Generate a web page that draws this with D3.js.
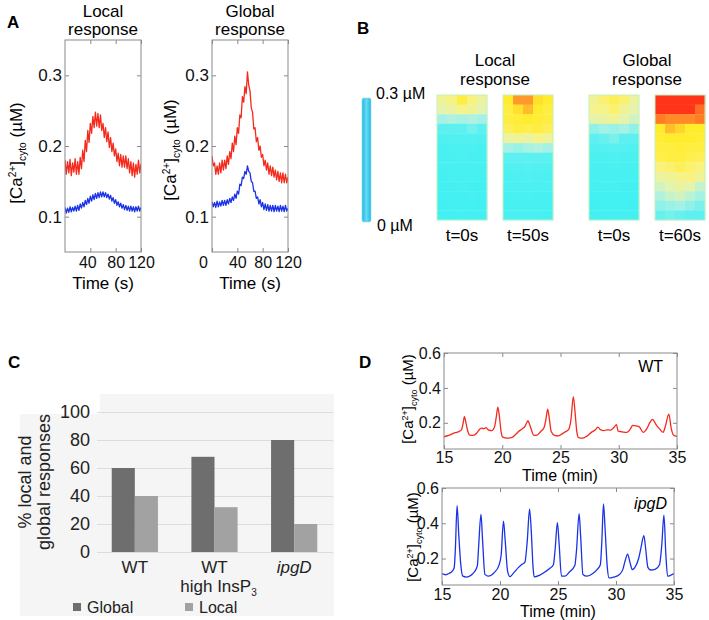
<!DOCTYPE html>
<html><head><meta charset="utf-8">
<script src="https://cdn.jsdelivr.net/npm/d3@7"></script>
<style>
body{margin:0;background:#fff;}
text{font-family:"Liberation Sans",Arial,sans-serif;}
</style>
</head>
<body>
<script>
// ---- panel A: cytosolic Ca2+ traces, sampled every 2 s from 0 to 120 s
var aStep = 2;
var localRed = [0.180,0.160,0.178,0.162,0.181,0.158,0.176,0.163,0.182,0.160,
  0.178,0.160,0.184,0.168,0.194,0.178,0.208,0.192,0.222,0.205,
  0.232,0.218,0.242,0.226,0.248,0.228,0.246,0.226,0.244,0.222,
  0.232,0.212,0.226,0.206,0.220,0.198,0.212,0.192,0.204,0.186,
  0.196,0.178,0.190,0.172,0.188,0.170,0.186,0.170,0.186,0.168,
  0.182,0.162,0.178,0.158,0.176,0.156,0.174,0.160,0.180,0.162,0.175];
var localBlue = [0.113,0.105,0.112,0.106,0.114,0.107,0.113,0.108,0.115,0.108,
  0.116,0.109,0.118,0.112,0.120,0.114,0.123,0.117,0.126,0.119,
  0.129,0.122,0.131,0.124,0.133,0.126,0.134,0.127,0.135,0.128,
  0.135,0.128,0.134,0.127,0.132,0.125,0.130,0.122,0.127,0.119,
  0.124,0.116,0.121,0.114,0.119,0.112,0.117,0.110,0.116,0.109,
  0.115,0.108,0.115,0.108,0.114,0.107,0.114,0.108,0.115,0.108,0.113];
var globalRed = [0.186,0.172,0.176,0.160,0.172,0.160,0.176,0.162,0.180,0.166,
  0.180,0.168,0.186,0.174,0.192,0.182,0.204,0.192,0.214,0.202,
  0.226,0.218,0.244,0.240,0.270,0.262,0.284,0.274,0.305,0.286,
  0.278,0.254,0.248,0.224,0.226,0.206,0.212,0.194,0.200,0.184,
  0.188,0.172,0.180,0.166,0.176,0.160,0.172,0.158,0.170,0.156,
  0.166,0.152,0.164,0.150,0.162,0.148,0.162,0.148,0.160,0.148,0.156];
var globalBlue = [0.121,0.114,0.120,0.113,0.122,0.114,0.121,0.115,0.123,0.116,
  0.123,0.116,0.124,0.118,0.126,0.120,0.128,0.123,0.132,0.126,
  0.136,0.132,0.146,0.144,0.156,0.154,0.164,0.160,0.172,0.164,
  0.162,0.150,0.148,0.136,0.136,0.126,0.128,0.118,0.124,0.114,
  0.120,0.110,0.118,0.109,0.117,0.108,0.116,0.108,0.116,0.107,
  0.116,0.108,0.115,0.107,0.116,0.108,0.115,0.107,0.116,0.108,0.112];
var aYTicks = [0.1,0.2,0.3];

// ---- panel B: heat maps (0 = 0 uM ... 1 = 0.3 uM), 13 rows x 5 columns
var hmLocal0 = [
 [0.60,0.63,0.70,0.64,0.58],[0.56,0.58,0.62,0.60,0.55],[0.44,0.46,0.45,0.46,0.44],
 [0.30,0.30,0.28,0.34,0.30],[0.16,0.18,0.20,0.18,0.16],[0.10,0.12,0.14,0.12,0.10],
 [0.10,0.10,0.12,0.10,0.08],[0.08,0.10,0.10,0.08,0.08],[0.06,0.08,0.10,0.08,0.06],
 [0.06,0.06,0.08,0.06,0.05],[0.05,0.06,0.06,0.08,0.05],[0.04,0.05,0.06,0.05,0.04],
 [0.04,0.04,0.05,0.04,0.04]];
var hmLocal50 = [
 [0.72,0.86,0.86,0.74,0.72],[0.70,0.74,0.80,0.72,0.70],[0.70,0.71,0.72,0.71,0.70],
 [0.68,0.70,0.69,0.70,0.68],[0.58,0.60,0.58,0.62,0.60],[0.44,0.42,0.45,0.46,0.44],
 [0.28,0.30,0.28,0.30,0.28],[0.18,0.20,0.22,0.20,0.18],[0.14,0.16,0.18,0.16,0.14],
 [0.12,0.14,0.14,0.12,0.12],[0.10,0.12,0.12,0.10,0.10],[0.08,0.10,0.10,0.08,0.08],
 [0.08,0.08,0.08,0.08,0.06]];
var hmGlobal0 = [
 [0.60,0.66,0.68,0.66,0.58],[0.62,0.62,0.66,0.60,0.56],[0.56,0.58,0.60,0.56,0.52],
 [0.40,0.44,0.42,0.45,0.40],[0.30,0.32,0.36,0.30,0.28],[0.20,0.22,0.26,0.22,0.18],
 [0.12,0.14,0.16,0.14,0.12],[0.10,0.10,0.12,0.10,0.08],[0.08,0.08,0.10,0.08,0.08],
 [0.06,0.08,0.08,0.06,0.06],[0.05,0.06,0.06,0.06,0.05],[0.04,0.05,0.05,0.05,0.04],
 [0.04,0.04,0.04,0.04,0.04]];
var hmGlobal60 = [
 [1.00,1.00,1.00,1.00,1.00],[1.00,1.00,1.00,1.00,0.92],[0.90,0.88,0.88,0.88,0.90],
 [0.72,0.80,0.76,0.72,0.72],[0.71,0.72,0.72,0.72,0.71],[0.70,0.70,0.71,0.70,0.70],
 [0.69,0.70,0.70,0.69,0.68],[0.64,0.66,0.68,0.66,0.64],[0.58,0.60,0.62,0.64,0.60],
 [0.52,0.55,0.58,0.56,0.50],[0.46,0.50,0.52,0.48,0.44],[0.40,0.42,0.44,0.40,0.36],
 [0.32,0.34,0.32,0.30,0.30]];
var hmLabels = ["t=0s","t=50s","t=0s","t=60s"];

// ---- panel C: % of local and global responses
var cGroups = ["WT","WT high InsP3","ipgD"];
var cGlobal = [60,68,80];
var cLocal = [40,32,20];
var cTicks = [0,20,40,60,80,100];

// ---- panel D: long recordings, [time (min), Ca (uM)]
var wtTrace = [[15.0,0.120],[15.4,0.128],[15.8,0.140],[16.2,0.148],[16.5,0.160],[16.65,0.200],[16.75,0.235],
 [16.9,0.195],[17.05,0.150],[17.2,0.130],[17.5,0.128],[17.8,0.140],[18.0,0.158],[18.2,0.170],[18.4,0.166],
 [18.6,0.172],[18.8,0.160],[19.1,0.155],[19.35,0.180],[19.5,0.240],[19.62,0.290],[19.75,0.240],[19.9,0.150],
 [20.05,0.118],[20.4,0.112],[20.8,0.115],[21.1,0.130],[21.4,0.150],[21.7,0.165],[21.95,0.180],[22.1,0.200],
 [22.2,0.212],[22.35,0.190],[22.55,0.150],[22.7,0.128],[23.0,0.130],[23.3,0.150],[23.6,0.175],[23.75,0.220],
 [23.9,0.278],[24.05,0.220],[24.2,0.150],[24.5,0.128],[24.8,0.125],[25.1,0.135],[25.4,0.148],[25.7,0.162],
 [25.9,0.220],[26.1,0.350],[26.25,0.260],[26.4,0.150],[26.55,0.115],[26.9,0.112],[27.3,0.125],[27.7,0.148],
 [28.0,0.160],[28.2,0.175],[28.45,0.160],[28.7,0.155],[29.0,0.160],[29.3,0.158],[29.6,0.175],[29.8,0.190],
 [29.95,0.152],[30.3,0.148],[30.7,0.145],[31.0,0.165],[31.2,0.185],[31.5,0.182],[31.75,0.178],[32.1,0.145],
 [32.4,0.165],[32.7,0.205],[32.9,0.220],[33.2,0.190],[33.5,0.165],[33.8,0.145],[34.0,0.180],[34.3,0.250],
 [34.5,0.170],[34.7,0.130],[35.0,0.122]];
var ipgdTrace = [[15.0,0.115],[15.3,0.108],[15.6,0.115],[15.9,0.130],[16.05,0.148],[16.15,0.250],[16.3,0.500],
 [16.45,0.330],[16.6,0.180],[16.8,0.100],[17.1,0.095],[17.5,0.105],[17.8,0.125],[18.05,0.160],[18.15,0.260],
 [18.36,0.450],[18.5,0.300],[18.7,0.110],[19.0,0.100],[19.5,0.120],[19.9,0.160],[20.1,0.220],[20.3,0.412],
 [20.45,0.300],[20.65,0.130],[20.85,0.098],[21.2,0.120],[21.6,0.150],[21.9,0.167],[22.15,0.180],[22.35,0.300],
 [22.55,0.480],[22.7,0.350],[22.85,0.150],[22.95,0.096],[23.4,0.105],[23.9,0.125],[24.3,0.145],[24.6,0.165],
 [24.75,0.250],[24.95,0.404],[25.1,0.280],[25.3,0.100],[25.6,0.100],[26.0,0.125],[26.45,0.160],[26.6,0.250],
 [26.82,0.455],[26.95,0.330],[27.15,0.110],[27.5,0.100],[28.0,0.115],[28.4,0.140],[28.65,0.165],[28.78,0.300],
 [28.92,0.510],[29.05,0.380],[29.25,0.150],[29.4,0.090],[29.8,0.095],[30.3,0.110],[30.6,0.140],[30.8,0.190],
 [31.0,0.225],[31.2,0.180],[31.4,0.138],[31.7,0.158],[31.95,0.200],[32.15,0.260],[32.4,0.330],[32.55,0.260],
 [32.75,0.150],[33.0,0.135],[33.4,0.140],[33.75,0.165],[33.95,0.280],[34.13,0.446],[34.3,0.220],[34.45,0.100],
 [34.7,0.105],[35.0,0.115]];
var dXTicks = [15,20,25,30,35];
var dYTicks = [0.2,0.4,0.6];

var RED = "#f42a1c", BLUE = "#1a32e6";

var svg = d3.select("body").append("svg").attr("width",709).attr("height",620);

function panelLabel(t,x,y){
  svg.append("text").attr("x",x).attr("y",y).attr("font-size",17).attr("font-weight","bold").text(t);
}

// y title [Ca2+]cyto (uM), rotated
function caTitle(cx,cy,fs){
  var t = svg.append("text").attr("transform","translate("+cx+","+cy+") rotate(-90)")
    .attr("text-anchor","middle").attr("font-size",fs).attr("dy","0.35em");
  t.append("tspan").text("[Ca");
  t.append("tspan").attr("font-size",fs*0.6).attr("dy",-fs*0.38).text("2+");
  t.append("tspan").attr("dy",fs*0.38).text("]");
  t.append("tspan").attr("font-size",fs*0.6).attr("dy",fs*0.22).text("cyto");
  t.append("tspan").attr("dy",-fs*0.22).text(" (\u00b5M)");
}

var clipN = 0;
function tracePlot(o){
  var x = d3.scaleLinear().domain(o.xd).range([o.x0,o.x1]);
  var y = d3.scaleLinear().domain(o.yd).range([o.y1,o.y0]);
  var g = svg.append("g");
  var id = "clip"+(clipN++);
  g.append("clipPath").attr("id",id).append("rect")
    .attr("x",o.x0).attr("y",o.y0).attr("width",o.x1-o.x0).attr("height",o.y1-o.y0);
  var line = d3.line().x(function(d){return x(d[0]);}).y(function(d){return y(d[1]);})
    .curve(o.curve || d3.curveLinear);
  o.series.forEach(function(s){
    g.append("path").datum(s.data).attr("clip-path","url(#"+id+")")
      .attr("d",line).attr("fill","none").attr("stroke",s.color)
      .attr("stroke-width",o.lw).attr("stroke-linejoin","round");
  });
  g.append("rect").attr("x",o.x0).attr("y",o.y0).attr("width",o.x1-o.x0).attr("height",o.y1-o.y0)
    .attr("fill","none").attr("stroke","#8a8a8a").attr("stroke-width",1);
  function style(a){
    a.select(".domain").remove();
    a.selectAll(".tick line").attr("stroke","#8a8a8a");
    a.selectAll("text").attr("font-size",o.fs).attr("fill","#111").attr("font-family",null);
  }
  g.append("g").attr("transform","translate(0,"+o.y1+")")
    .call(d3.axisBottom(x).tickValues(o.xt).tickSize(-4).tickPadding(o.xpad).tickFormat(d3.format("d"))).call(style);
  g.append("g").attr("transform","translate(0,"+o.y0+")")
    .call(d3.axisTop(x).tickValues(o.xt).tickSize(-4).tickFormat("")).call(style);
  g.append("g").attr("transform","translate("+o.x0+",0)")
    .call(d3.axisLeft(y).tickValues(o.yt).tickSize(-4).tickPadding(3).tickFormat(d3.format(".1f"))).call(style);
  g.append("g").attr("transform","translate("+o.x1+",0)")
    .call(d3.axisRight(y).tickValues(o.yt).tickSize(-4).tickFormat("")).call(style);
  return {x:x,y:y,g:g};
}

function aSeries(vals){ return vals.map(function(v,i){return [i*aStep,v];}); }

// ================= Panel A =================
panelLabel("A",7,28);
[["Local",103],["Global",250]].forEach(function(p){
  svg.append("text").attr("x",p[1]).attr("y",17).attr("text-anchor","middle").attr("font-size",17).text(p[0]);
  svg.append("text").attr("x",p[1]).attr("y",35).attr("text-anchor","middle").attr("font-size",17).text("response");
});
var gA1 = tracePlot({x0:65,x1:141,y0:40,y1:252,xd:[0,120],yd:[0.05,0.35],xt:[40,80,120],yt:aYTicks,
  xpad:5,fs:17,lw:1.3,series:[{data:aSeries(localRed),color:RED},{data:aSeries(localBlue),color:BLUE}]});
var gA2 = tracePlot({x0:212,x1:288,y0:40,y1:252,xd:[0,120],yd:[0.05,0.35],xt:[0,40,80,120],yt:aYTicks,
  xpad:5,fs:17,lw:1.3,series:[{data:aSeries(globalRed),color:RED},{data:aSeries(globalBlue),color:BLUE}]});
[gA1,gA2].forEach(function(p){
  p.g.selectAll(".tick text").filter(function(d){return d>=40;}).attr("font-size",16);
});
gA1.g.selectAll(".tick text").filter(function(d){return d===40;}).attr("dx",-3);
gA2.g.selectAll(".tick text").filter(function(d){return d===0;}).attr("dx",-9).attr("font-size",16);
caTitle(16,153,17);
caTitle(170,150,17);
svg.append("text").attr("x",103).attr("y",289).attr("text-anchor","middle").attr("font-size",17).text("Time  (s)");
svg.append("text").attr("x",250).attr("y",289).attr("text-anchor","middle").attr("font-size",17).text("Time  (s)");

// ================= Panel B =================
panelLabel("B",357,34);
var heat = d3.scaleLinear()
  .domain([0,0.3,0.45,0.55,0.65,0.72,0.85,1])
  .range(["#3ef0f2","#5ef0f0","#a8f2e4","#e4f4b0","#fcf27a","#ffec2c","#ffa02c","#ff3418"]);
var grad = svg.append("defs").append("linearGradient").attr("id","cbar");
[[0,"#22b8e0"],[0.5,"#62dcf6"],[1,"#22b8e0"]].forEach(function(s){
  grad.append("stop").attr("offset",s[0]).attr("stop-color",s[1]);
});
svg.append("rect").attr("x",362).attr("y",98).attr("width",9).attr("height",124).attr("rx",2)
  .attr("fill","url(#cbar)").attr("stroke","#9ad6ea").attr("stroke-width",0.6);
svg.append("text").attr("x",376).attr("y",99).attr("font-size",16).text("0.3 \u00b5M");
svg.append("text").attr("x",377).attr("y",231).attr("font-size",16).text("0 \u00b5M");

var maps = [hmLocal0,hmLocal50,hmGlobal0,hmGlobal60];
var mapX = [437,503,589,655];
var hmW = 50, hmTop = 95, hmBot = 220;
maps.forEach(function(m,k){
  var cx = d3.scaleBand().domain(d3.range(5)).range([mapX[k],mapX[k]+hmW]);
  var cy = d3.scaleBand().domain(d3.range(m.length)).range([hmTop,hmBot]);
  var g = svg.append("g");
  m.forEach(function(row,r){
    g.selectAll(null).data(row).enter().append("rect")
      .attr("x",function(d,c){return cx(c);}).attr("y",cy(r))
      .attr("width",cx.bandwidth()+0.3).attr("height",cy.bandwidth()+0.3)
      .attr("fill",function(d){return heat(d);});
  });
  g.append("rect").attr("x",mapX[k]).attr("y",hmTop).attr("width",hmW).attr("height",hmBot-hmTop)
    .attr("fill","none").attr("stroke","#c8f0c0").attr("stroke-width",1);
  svg.append("text").attr("x",mapX[k]+hmW/2).attr("y",241).attr("text-anchor","middle")
    .attr("font-size",17).text(hmLabels[k]);
});
[["Local",495],["Global",647]].forEach(function(p){
  svg.append("text").attr("x",p[1]).attr("y",66).attr("text-anchor","middle").attr("font-size",17).text(p[0]);
  svg.append("text").attr("x",p[1]).attr("y",85).attr("text-anchor","middle").attr("font-size",17).text("response");
});

// ================= Panel C =================
panelLabel("C",8,368);
svg.append("rect").attr("x",20).attr("y",394).attr("width",314).attr("height",222).attr("fill","#f5f5f5");
svg.append("rect").attr("x",20).attr("y",394).attr("width",80).attr("height",20).attr("fill","#fff");
var cx0 = d3.scaleBand().domain(cGroups).range([95,334]).paddingInner(0.42).paddingOuter(0.21);
var cx1 = d3.scaleBand().domain(["Global","Local"]).range([0,cx0.bandwidth()]);
var cy = d3.scaleLinear().domain([0,100]).range([552,412]);
var gC = svg.append("g");
gC.append("g").attr("transform","translate(97,0)")
  .call(d3.axisLeft(cy).tickValues(cTicks).tickSize(-236).tickPadding(7))
  .call(function(a){
    a.select(".domain").remove();
    a.selectAll(".tick line").attr("stroke","#dcdcdc");
    a.selectAll("text").attr("font-size",18).attr("fill","#222").attr("font-family",null);
  });
gC.selectAll(".bg").data(cGroups).enter().append("rect")
  .attr("x",function(d){return cx0(d)+cx1("Global");}).attr("width",cx1.bandwidth())
  .attr("y",function(d,i){return cy(cGlobal[i]);}).attr("height",function(d,i){return cy(0)-cy(cGlobal[i]);})
  .attr("fill","#6e6e6e");
gC.selectAll(".bl").data(cGroups).enter().append("rect")
  .attr("x",function(d){return cx0(d)+cx1("Local");}).attr("width",cx1.bandwidth())
  .attr("y",function(d,i){return cy(cLocal[i]);}).attr("height",function(d,i){return cy(0)-cy(cLocal[i]);})
  .attr("fill","#a2a2a2");
var cc = function(d){return cx0(d)+cx0.bandwidth()/2;};
svg.append("text").attr("x",cc(cGroups[0])).attr("y",573).attr("text-anchor","middle").attr("font-size",17).attr("fill","#222").text("WT");
svg.append("text").attr("x",cc(cGroups[1])).attr("y",573).attr("text-anchor","middle").attr("font-size",17).attr("fill","#222").text("WT");
var hi = svg.append("text").attr("x",cc(cGroups[1])+4).attr("y",592).attr("text-anchor","middle").attr("font-size",17).attr("fill","#222");
hi.append("tspan").text("high InsP");
hi.append("tspan").attr("font-size",10).attr("dy",4).text("3");
svg.append("text").attr("x",cc(cGroups[2])).attr("y",573).attr("text-anchor","middle").attr("font-size",17)
  .attr("font-style","italic").attr("fill","#222").text("ipgD");
[["Global","#6e6e6e",73],["Local","#a2a2a2",185]].forEach(function(l){
  svg.append("rect").attr("x",l[2]).attr("y",603).attr("width",8).attr("height",8).attr("fill",l[1]);
  svg.append("text").attr("x",l[2]+14).attr("y",613).attr("font-size",16).attr("fill","#222").text(l[0]);
});
var ct = svg.append("text").attr("transform","translate(34,482) rotate(-90)").attr("text-anchor","middle")
  .attr("font-size",18).attr("fill","#222");
ct.append("tspan").attr("x",0).attr("dy",-3).text("% local and");
ct.append("tspan").attr("x",0).attr("dy",19).text("global responses");

// ================= Panel D =================
panelLabel("D",359,368);
tracePlot({x0:444,x1:677,y0:353,y1:449,xd:[15,35],yd:[0.05,0.6],xt:dXTicks,yt:dYTicks,
  xpad:3,fs:16,lw:1.3,curve:d3.curveMonotoneX,series:[{data:wtTrace,color:RED}]});
svg.append("text").attr("x",663).attr("y",372).attr("text-anchor","end").attr("font-size",16).text("WT");
caTitle(408,399,15);
svg.append("text").attr("x",560).attr("y",481).attr("text-anchor","middle").attr("font-size",16).text("Time (min)");

tracePlot({x0:442,x1:674,y0:488,y1:585,xd:[15,35],yd:[0.05,0.6],xt:dXTicks,yt:dYTicks,
  xpad:4,fs:16,lw:1.3,curve:d3.curveMonotoneX,series:[{data:ipgdTrace,color:BLUE}]});
svg.append("text").attr("x",667).attr("y",509).attr("text-anchor","end").attr("font-size",16)
  .attr("font-style","italic").text("ipgD");
caTitle(413,537,15);
svg.append("text").attr("x",558).attr("y",617).attr("text-anchor","middle").attr("font-size",16).text("Time (min)");
</script>
</body></html>
